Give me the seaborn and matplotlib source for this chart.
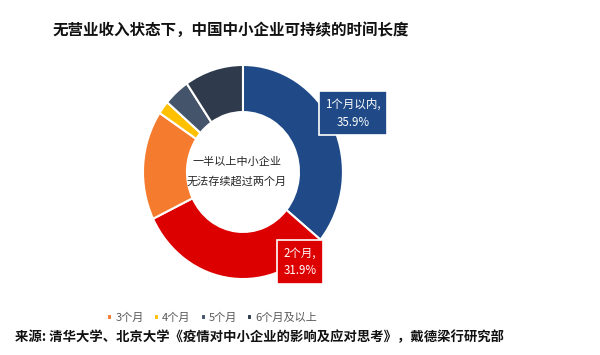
import matplotlib
matplotlib.use('Agg')
import matplotlib.pyplot as plt
import seaborn as sns

sns.set_theme(style='white')
plt.rcParams['font.family'] = ['Noto Sans CJK SC', 'DejaVu Sans']

# data
labels = ['1个月以内', '2个月', '3个月', '4个月', '5个月', '6个月及以上']
shares = [35.9, 31.9, 16.5, 2.0, 4.2, 9.5]
colors = ['#1F4A87', '#DD0000', '#F57B2E', '#FFC000', '#44546A', '#2F3B4D']

fig = plt.figure(figsize=(6, 3.55), dpi=100)
ax = fig.add_axes([0.2383, 0.214, 0.3333, 0.603])

wedges, _ = ax.pie(shares, colors=colors, startangle=90, counterclock=False,
                   radius=1, wedgeprops=dict(width=0.44, edgecolor='white', linewidth=1.5))
ax.set_aspect('auto')
ax.set_xlim(-1, 1)
ax.set_ylim(-1, 1)

ax.text(-0.06, 0.0, '一半以上中小企业\n无法存续超过两个月', ha='center', va='center',
        fontsize=8, color='#262626', linespacing=2.0)

# callout boxes for the two biggest slices
callouts = [(0, 1.10, 0.55), (1, 0.57, -0.84)]
for i, x, y in callouts:
    ax.text(x, y, f'{labels[i]},\n{shares[i]:.1f}%', ha='center', va='center',
            fontsize=8.3, color='white', linespacing=1.5, clip_on=False,
            bbox=dict(boxstyle='square,pad=0.55', facecolor=colors[i],
                      edgecolor='white', linewidth=1.2))

fig.legend(wedges[2:], labels[2:], loc='center', bbox_to_anchor=(0.354, 0.104),
           ncol=4, frameon=False, fontsize=8, handlelength=0.45, handleheight=0.45,
           handletextpad=0.3, columnspacing=0.9, labelcolor='#595959')

fig.text(0.087, 0.915, '无营业收入状态下，中国中小企业可持续的时间长度',
         fontsize=11.2, fontweight='bold', va='center', color='#111111')
fig.text(0.025, 0.05, '来源: 清华大学、北京大学《疫情对中小企业的影响及应对思考》，戴德梁行研究部',
         fontsize=9.6, fontweight='bold', va='center', color='#111111')

fig.savefig('out.png', dpi=100)
